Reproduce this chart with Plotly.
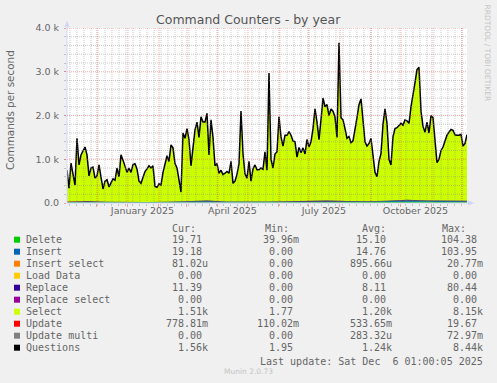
import numpy as np
import pandas as pd
import plotly.graph_objects as go

# ---------------- data ----------------
period_start = "2024-11-01 01:00"
period_end = "2025-12-06 01:00"
sample_step = "2D"        # main series: one value every 2 days
small_step = "20D"        # minor command types: one value every 20 days

# Questions (top of the stack, thousands of commands / s)
questions_k = [
    0.75, 0.34, 0.91, 0.64, 0.41, 1.48, 0.87, 1.10, 1.21, 1.28,
    1.10, 0.62, 0.80, 0.82, 0.57, 0.62, 0.87, 0.60, 0.32, 0.50,
    0.53, 0.37, 0.45, 0.55, 0.52, 0.80, 0.60, 1.10, 0.98, 0.85,
    0.70, 0.80, 0.70, 0.88, 0.90, 0.78, 0.50, 0.45, 0.60, 0.72,
    0.78, 0.85, 0.80, 0.85, 0.38, 0.36, 0.44, 0.41, 0.70, 0.90,
    1.08, 0.95, 1.33, 1.26, 0.90, 0.80, 0.55, 0.25, 1.60, 1.48,
    1.70, 1.45, 0.85, 1.21, 1.67, 1.85, 1.50, 1.97, 1.85, 1.85,
    2.05, 1.10, 1.90, 1.50, 0.85, 0.90, 0.68, 0.75, 0.65, 0.68,
    0.72, 0.68, 0.95, 0.45, 0.50, 0.66, 0.90, 2.10, 1.13, 0.66,
    0.57, 0.95, 0.50, 0.78, 0.87, 0.76, 0.76, 0.80, 0.77, 1.17,
    0.75, 2.97, 1.00, 0.80, 1.12, 1.17, 1.97, 1.51, 1.30, 1.55,
    1.55, 1.63, 1.55, 1.42, 1.40, 1.05, 1.27, 1.15, 1.26, 1.12,
    1.45, 1.28, 1.40, 1.70, 2.15, 1.85, 1.45, 1.90, 2.40, 2.20,
    2.25, 2.00, 2.15, 2.10, 1.97, 1.50, 3.66, 1.95, 1.90, 1.70,
    1.48, 1.52, 1.38, 1.42, 1.74, 1.95, 2.25, 2.38, 1.90, 1.40,
    1.30, 1.36, 1.48, 1.05, 0.70, 0.60, 0.95, 1.13, 1.80, 2.15,
    1.82, 1.00, 0.87, 1.52, 1.70, 1.72, 1.78, 1.82, 1.78, 1.90,
    1.88, 1.82, 2.20, 2.45, 2.75, 3.05, 3.10, 2.10, 1.75, 1.62,
    1.85, 1.60, 2.00, 1.95, 1.40, 0.92, 1.00, 1.20, 1.28, 1.40,
    1.55, 1.62, 1.68, 1.66, 1.56, 1.55, 1.55, 1.57, 1.30, 1.36,
    1.56,
]

# Minor command types (commands / s), thin band at the bottom
delete = [12, 14, 10, 9, 8, 11, 16, 19, 13, 11, 13, 16, 18, 21, 18, 15, 20, 32, 26, 18, 20]
insert = [13, 15, 11, 9, 9, 11, 18, 21, 13, 11, 13, 15, 18, 20, 18, 15, 19, 27, 21, 18, 19]
insert_select = [0.001, 0.001, 0.001, 0.001, 0.001, 0.001, 0.001, 0.001, 0.001, 0.001, 0.001,
                 0.001, 0.001, 0.001, 0.001, 0.001, 0.001, 0.001, 0.001, 0.001, 0.001]
load_data = [0, 0, 0, 0, 0, 0, 0, 0, 0, 0, 0, 0, 0, 0, 0, 0, 0, 0, 0, 0, 0]
replace = [6, 9, 5, 3, 3, 7, 16, 19, 8, 6, 8, 10, 13, 15, 10, 8, 10, 13, 10, 10, 11]
replace_select = [0, 0, 0, 0, 0, 0, 0, 0, 0, 0, 0, 0, 0, 0, 0, 0, 0, 0, 0, 0, 0]
update = [0.5, 0.6, 0.4, 0.4, 0.5, 0.5, 0.6, 0.7, 0.5, 0.5, 0.5, 0.6, 0.6, 0.6, 0.5, 0.5, 0.6, 0.7, 0.6, 0.5, 0.78]
update_multi = [0, 0, 0, 0, 0, 0, 0, 0, 0, 0, 0, 0, 0, 0, 0, 0, 0, 0, 0, 0, 0]

series_names = ["Delete", "Insert", "Insert select", "Load Data", "Replace",
                "Replace select", "Select", "Update", "Update multi", "Questions"]
series_colors = ["#00CC00", "#0066B3", "#FF8000", "#FFCC00", "#330099",
                 "#990099", "#CCFF00", "#FF0000", "#808080", "#000000"]
stat_cur = ["19.71", "19.18", "81.02u", "0.00", "11.39", "0.00", "1.51k", "778.81m", "0.00", "1.56k"]
stat_min = ["39.96m", "0.00", "0.00", "0.00", "0.00", "0.00", "1.77", "110.02m", "0.00", "1.95"]
stat_avg = ["15.10", "14.76", "895.66u", "0.00", "8.11", "0.00", "1.20k", "533.65m", "283.32u", "1.24k"]
stat_max = ["104.38", "103.95", "20.77m", "0.00", "80.44", "0.00", "8.15k", "19.67", "72.97m", "8.44k"]

y_tick_vals = [0, 1000, 2000, 3000, 4000]
y_tick_text = ["0.0", "1.0 k", "2.0 k", "3.0 k", "4.0 k"]
x_label_dates = ["2025-01-15 12:00", "2025-04-15 12:00", "2025-07-16", "2025-10-15 12:00"]
x_label_text = ["January 2025", "April 2025", "July 2025", "October 2025"]

title_text = "Command Counters - by year"
y_title = "Commands per second"
last_update = "Last update: Sat Dec  6 01:00:05 2025"
footer = "Munin 2.0.73"
watermark = "RRDTOOL / TOBI OETIKER"

# ---------------- layout geometry (pixels) ----------------
W, H = 497, 383
PL, PR, PT, PB = 67, 467, 28, 203
Y_MAX = 4000

def px(xp):
    return (xp - PL) / (PR - PL)

def py(yp):
    return (PB - yp) / (PB - PT)

SANS = "DejaVu Sans, Verdana, sans-serif"
MONO = "DejaVu Sans Mono, monospace"
FONT_C = "#666666"
AXIS_C = "#CFD6F8"
GRID_C = "rgba(140,140,140,0.45)"
MGRID_C = "rgba(240,60,60,0.45)"

start = pd.Timestamp(period_start)
end = pd.Timestamp(period_end)
dates = pd.date_range(start, periods=len(questions_k), freq=sample_step)
small_dates = pd.date_range(start, periods=len(delete), freq=small_step)
questions = np.array(questions_k) * 1000.0

fig = go.Figure()

# Select area: its top coincides with the stack total (Questions line)
fig.add_trace(go.Scatter(
    x=dates, y=questions, mode="lines", fill="tozeroy",
    fillcolor=series_colors[6], line=dict(width=0, color=series_colors[6]),
    hoverinfo="skip", showlegend=False, name="Select"))

small = [("Delete", delete, 0), ("Insert", insert, 1), ("Insert select", insert_select, 2),
         ("Load Data", load_data, 3), ("Replace", replace, 4),
         ("Replace select", replace_select, 5), ("Update", update, 7),
         ("Update multi", update_multi, 8)]
for nm, vals, ci in small:
    fig.add_trace(go.Scatter(
        x=small_dates, y=vals, mode="lines", stackgroup="low", stackgaps="interpolate",
        fillcolor=series_colors[ci], line=dict(width=0, color=series_colors[ci]),
        hoverinfo="skip", showlegend=False, name=nm))

fig.add_trace(go.Scatter(
    x=dates, y=questions, mode="lines",
    line=dict(color="#000000", width=1.5), hoverinfo="skip",
    showlegend=False, name="Questions"))

# helper trace for the label axis
fig.add_trace(go.Scatter(x=[start, end], y=[0, 0], xaxis="x2", mode="lines",
                         line=dict(width=0), hoverinfo="skip", showlegend=False))

# ---------------- grid (drawn above the areas, like rrdtool) ----------------
shapes = []
month_starts = pd.date_range("2024-12-01", end, freq="MS")
weeks = pd.date_range("2024-11-04", end, freq="7D")
for d in weeks:
    shapes.append(dict(type="line", xref="x", yref="paper", x0=d, x1=d, y0=0, y1=1,
                       line=dict(color=GRID_C, width=1, dash="1px,1px"), layer="above"))
for v in range(200, Y_MAX, 200):
    if v % 1000:
        shapes.append(dict(type="line", xref="paper", yref="y", x0=0, x1=1, y0=v, y1=v,
                           line=dict(color=GRID_C, width=1, dash="1px,1px"), layer="above"))
for d in month_starts:
    shapes.append(dict(type="line", xref="x", yref="paper", x0=d, x1=d, y0=0, y1=1,
                       line=dict(color=MGRID_C, width=1, dash="1px,1px"), layer="above"))
for v in y_tick_vals[1:]:
    shapes.append(dict(type="line", xref="paper", yref="y", x0=0, x1=1, y0=v, y1=v,
                       line=dict(color=MGRID_C, width=1, dash="1px,1px"), layer="above"))

# axes with arrows
shapes.append(dict(type="line", xref="paper", yref="paper", x0=0, x1=0, y0=0, y1=py(23),
                   line=dict(color=AXIS_C, width=1), layer="above"))
shapes.append(dict(type="line", xref="paper", yref="paper", x0=0, x1=px(470), y0=0, y1=0,
                   line=dict(color=AXIS_C, width=1), layer="above"))
shapes.append(dict(type="path", xref="paper", yref="paper",
                   path=f"M {px(64.5)} {py(27)} L {px(69.5)} {py(27)} L {px(67)} {py(20.5)} Z",
                   fillcolor=AXIS_C, line=dict(width=0), layer="above"))
shapes.append(dict(type="path", xref="paper", yref="paper",
                   path=f"M {px(468)} {py(200.5)} L {px(468)} {py(205.5)} L {px(474.5)} {py(203)} Z",
                   fillcolor=AXIS_C, line=dict(width=0), layer="above"))

# ---------------- texts ----------------
ann = []
def text(xp, yp, s, size, font=SANS, color=FONT_C, xanchor="left", angle=0):
    ann.append(dict(x=px(xp), y=py(yp), xref="paper", yref="paper", text=s,
                    showarrow=False, xanchor=xanchor, yanchor="middle",
                    textangle=angle, borderpad=0, borderwidth=0,
                    font=dict(family=font, size=size, color=color)))

text(248.5, 19, title_text, 12.5, color="#555555", xanchor="center")
text(10, 110, y_title, 10.4, xanchor="center", angle=-90)
text(487.5, 53, watermark, 7.5, color="#C4C4C4", xanchor="center", angle=90)
text(248, 371.5, footer, 7.5, color="#C4C4C4", xanchor="center")

NB = "\u00a0"
def mono(s):
    return s.replace(" ", NB)

ROW0, ROWH = 239.7, 12
text(172, 228, "Cur:", 10, font=MONO)
text(265, 228, "Min:", 10, font=MONO)
text(362, 228, "Avg:", 10, font=MONO)
text(442, 228, "Max:", 10, font=MONO)

def with_suffix(s):
    return s if s[-1].isalpha() else s + NB

for i, nm in enumerate(series_names):
    yr = ROW0 + ROWH * i
    shapes.append(dict(type="rect", xref="paper", yref="paper",
                       x0=px(14), x1=px(20), y0=py(yr + 3), y1=py(yr - 3),
                       fillcolor=series_colors[i], line=dict(width=0)))
    text(26, yr, mono(nm), 10, font=MONO)
    text(208.3, yr, with_suffix(stat_cur[i]), 10, font=MONO, xanchor="right")
    text(299.3, yr, with_suffix(stat_min[i]), 10, font=MONO, xanchor="right")
    text(391.7, yr, with_suffix(stat_avg[i]), 10, font=MONO, xanchor="right")
    text(482.7, yr, with_suffix(stat_max[i]), 10, font=MONO, xanchor="right")

text(482.7, 361, mono(last_update), 10, font=MONO, xanchor="right")

fig.update_layout(
    width=W, height=H,
    margin=dict(l=PL, r=W - PR, t=PT, b=H - PB, pad=0),
    paper_bgcolor="#F0F0F0", plot_bgcolor="#FFFFFF",
    showlegend=False, shapes=shapes, annotations=ann,
    xaxis=dict(type="date", range=[start, end], showgrid=False, zeroline=False,
               showline=False, tickmode="array", tickvals=list(month_starts),
               ticktext=[""] * len(month_starts), ticks="outside", ticklen=3,
               tickcolor=MGRID_C, tickwidth=1, fixedrange=True,
               minor=dict(tickmode="array", tickvals=list(weeks), ticks="outside",
                          ticklen=2, tickcolor=GRID_C, showgrid=False)),
    xaxis2=dict(type="date", range=[start, end], overlaying="x", side="bottom",
                anchor="y", showgrid=False, zeroline=False, showline=False,
                tickmode="array", tickvals=x_label_dates, ticktext=x_label_text,
                ticks="", tickfont=dict(family=SANS, size=9.5, color=FONT_C),
                fixedrange=True),
    yaxis=dict(range=[0, Y_MAX], showgrid=False, zeroline=False, showline=False,
               tickmode="array", tickvals=y_tick_vals, ticktext=y_tick_text,
               ticks="outside", ticklen=2, tickcolor=MGRID_C,
               ticklabelstandoff=3,
               tickfont=dict(family=SANS, size=9.5, color=FONT_C), fixedrange=True,
               minor=dict(tickmode="array", tickvals=list(range(200, Y_MAX, 200)),
                          ticks="outside", ticklen=2, tickcolor=GRID_C, showgrid=False)),
)

fig.write_html("out.html", config={"displayModeBar": False},
               post_script="document.body.style.margin='0';document.body.style.padding='0';"
                           "document.documentElement.style.overflow='hidden';")
